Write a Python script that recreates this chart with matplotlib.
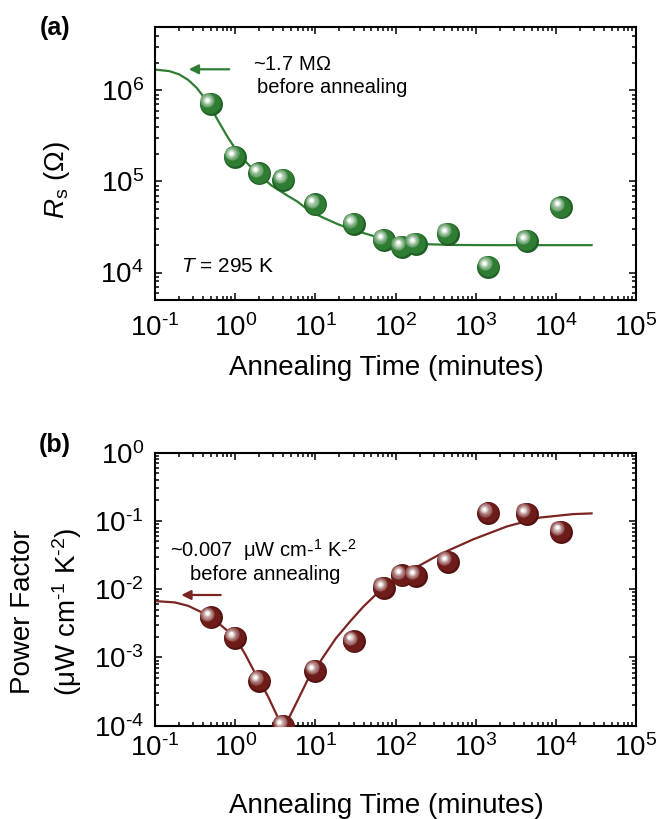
import matplotlib
matplotlib.use('Agg')
import matplotlib.pyplot as plt
import numpy as np
from matplotlib.ticker import LogLocator, NullFormatter, FuncFormatter
from matplotlib.transforms import ScaledTranslation
from matplotlib.colors import to_rgb

plt.rcParams['font.family'] = ['Liberation Sans', 'DejaVu Sans']
plt.rcParams['mathtext.fontset'] = 'custom'
plt.rcParams['mathtext.rm'] = 'Liberation Sans'
plt.rcParams['mathtext.it'] = 'Liberation Sans:italic'
plt.rcParams['mathtext.bf'] = 'Liberation Sans:bold'

# ---------------- data ----------------
time_min = [0.5, 1, 2, 4, 10, 30, 72, 120, 180, 450, 1440, 4320, 11520]
rs_ohm = [7.1e5, 1.87e5, 1.23e5, 1.05e5, 5.6e4, 3.4e4, 2.27e4, 1.93e4, 2.08e4,
          2.65e4, 1.15e4, 2.22e4, 5.2e4]
pf_uW = [3.86e-3, 1.95e-3, 4.5e-4, 1.0e-4, 6.4e-4, 1.72e-3, 1.05e-2, 1.6e-2,
         1.57e-2, 2.5e-2, 0.13, 0.127, 0.07]

fit_a_time = [0.1, 0.15, 0.2, 0.26, 0.33, 0.4, 0.5, 0.6, 0.7, 0.82, 1.0, 1.2,
              1.5, 1.77, 2.2, 2.85, 3.7, 4.6, 6, 7.4, 10, 13, 19, 31, 55, 100,
              200, 500, 2000, 27900]
fit_a_rs = [1.69e6, 1.63e6, 1.5e6, 1.3e6, 1.07e6, 8.6e5, 6.4e5, 4.8e5, 3.8e5,
            3.0e5, 2.3e5, 1.85e5, 1.5e5, 1.3e5, 1.1e5, 9.0e4, 7.8e4, 6.9e4,
            6.0e4, 5.2e4, 4.4e4, 3.95e4, 3.4e4, 2.9e4, 2.5e4, 2.2e4, 2.06e4,
            2.01e4, 2.0e4, 2.0e4]

fit_b_time = [0.1, 0.177, 0.26, 0.38, 0.5, 0.68, 1.0, 1.33, 1.77, 2.58, 3.6,
              4.0, 5.5, 8.1, 10, 12, 18, 27.5, 40, 63.8, 100, 150, 360, 940,
              2450, 6300, 16500, 27900]
fit_b_pf = [6.7e-3, 6.4e-3, 5.7e-3, 4.6e-3, 3.8e-3, 2.9e-3, 1.96e-3, 1.12e-3,
            5.9e-4, 2.66e-4, 1.15e-4, 9.0e-5, 1.9e-4, 4.8e-4, 6.4e-4, 9.4e-4,
            1.9e-3, 3.43e-3, 5.6e-3, 9.5e-3, 1.35e-2, 1.85e-2, 3.26e-2, 5.4e-2,
            8.3e-2, 0.112, 0.126, 0.129]

GREEN = '#2f7d33'
GREEN_DARK = '#1f5e24'
RED = '#6e1c1a'
RED_DARK = '#521210'
RED_LINE = '#7a2522'

W, H = 656, 819
fig = plt.figure(figsize=(W / 100, H / 100), dpi=100)


def P(x, y):
    return (x / W, 1 - y / H)


ax1 = fig.add_axes([155 / W, 1 - 300 / H, 481 / W, 273.3 / H])
ax2 = fig.add_axes([155 / W, 1 - 725.7 / H, 481 / W, 273 / H])


def fmt(v, pos):
    e = int(round(np.log10(v)))
    if e < 0:
        return r'$\mathregular{10^{\text{-}%d}}$' % (-e)
    return r'$\mathregular{10^{%d}}$' % e


def sphere(ax, xs, ys, base, dark):
    D = 16.5  # points
    b = np.array(to_rgb(base))
    layers = [(D, dark, 0.0, 0.0)]
    layers.append((D * 0.9, base, -0.5, 0.5))
    n = 9
    for i in range(n):
        f = i / (n - 1)
        d = D * (0.62 - 0.48 * f)
        c = b + (np.ones(3) - b) * (0.25 + 0.75 * f ** 1.3)
        off = 2.6 + 0.4 * f
        layers.append((d, tuple(np.clip(c, 0, 1)), -off, off))
    for k, (d, c, dx, dy) in enumerate(layers):
        tr = ax.transData + ScaledTranslation(dx / 72, dy / 72, fig.dpi_scale_trans)
        ax.scatter(xs, ys, s=d ** 2, color=c, linewidths=0, transform=tr,
                   zorder=3 + k * 0.01)


for ax in (ax1, ax2):
    ax.set_xscale('log')
    ax.set_yscale('log')
    ax.set_xlim(1e-1, 1e5)
    ax.xaxis.set_major_locator(LogLocator(base=10, numticks=20))
    ax.xaxis.set_minor_locator(LogLocator(base=10, subs=np.arange(2, 10), numticks=100))
    ax.yaxis.set_major_locator(LogLocator(base=10, numticks=20))
    ax.yaxis.set_minor_locator(LogLocator(base=10, subs=np.arange(2, 10), numticks=100))
    ax.xaxis.set_major_formatter(FuncFormatter(fmt))
    ax.yaxis.set_major_formatter(FuncFormatter(fmt))
    ax.xaxis.set_minor_formatter(NullFormatter())
    ax.yaxis.set_minor_formatter(NullFormatter())
    ax.tick_params(which='both', direction='in', top=True, right=True,
                   labelsize=20, width=1.1)
    ax.tick_params(which='major', length=5)
    ax.tick_params(which='minor', length=3)
    ax.tick_params(axis='y', pad=8)
    for s in ax.spines.values():
        s.set_linewidth(1.5)

ax1.tick_params(axis='x', pad=10)
ax2.tick_params(axis='x', pad=6)

# ---------- panel (a) ----------
ax1.set_ylim(5e3, 5e6)
ax1.plot(fit_a_time, fit_a_rs, color=GREEN, lw=1.6, zorder=2)
sphere(ax1, time_min, rs_ohm, GREEN, GREEN_DARK)

# ---------- panel (b) ----------
ax2.set_ylim(1e-4, 1e0)
ax2.plot(fit_b_time, fit_b_pf, color=RED_LINE, lw=1.6, zorder=2)
sphere(ax2, time_min, pf_uW, RED, RED_DARK)

# ---------- texts ----------
fig.text(*P(55, 28), '(a)', fontsize=18, fontweight='bold', ha='center', va='center')
fig.text(*P(55, 445), '(b)', fontsize=18, fontweight='bold', ha='center', va='center')

fig.text(*P(57, 180), r'$R_\mathregular{s}$ ($\mathregular{\Omega}$)', fontsize=20,
         rotation=90, ha='center', va='center')
fig.text(*P(386, 375), 'Annealing Time (minutes)', fontsize=20, ha='center', va='baseline')
fig.text(*P(386, 813), 'Annealing Time (minutes)', fontsize=20, ha='center', va='baseline')

fig.text(*P(23, 612), 'Power Factor', fontsize=20, rotation=90, ha='center', va='center')
fig.text(*P(67, 612), r'($\mathregular{\mu}$W cm$^{\mathregular{\text{-}1}}$ K$^{\mathregular{\text{-}2}}$)',
         fontsize=20, rotation=90, ha='center', va='center')

fig.text(*P(253, 70), r'~1.7 M$\mathregular{\Omega}$', fontsize=14.5, va='baseline')
fig.text(*P(257, 93), 'before annealing', fontsize=14.5, va='baseline')
fig.text(*P(181, 272), r'$T$ = 295 K', fontsize=15, va='baseline')

fig.text(*P(170, 557), r'~0.007  $\mathregular{\mu}$W cm-$^{\mathregular{1}}$ K-$^{\mathregular{2}}$',
         fontsize=14.5, va='baseline')
fig.text(*P(190, 580), 'before annealing', fontsize=14.5, va='baseline')

fig.add_artist(matplotlib.patches.FancyArrowPatch(
    P(232, 69.3), P(186, 69.3), transform=fig.transFigure,
    arrowstyle='-|>', mutation_scale=14, color=GREEN, lw=1.6))
fig.add_artist(matplotlib.patches.FancyArrowPatch(
    P(223.5, 595), P(178.5, 595), transform=fig.transFigure,
    arrowstyle='-|>', mutation_scale=14, color=RED_LINE, lw=1.6))

fig.savefig('out.png', dpi=100)
